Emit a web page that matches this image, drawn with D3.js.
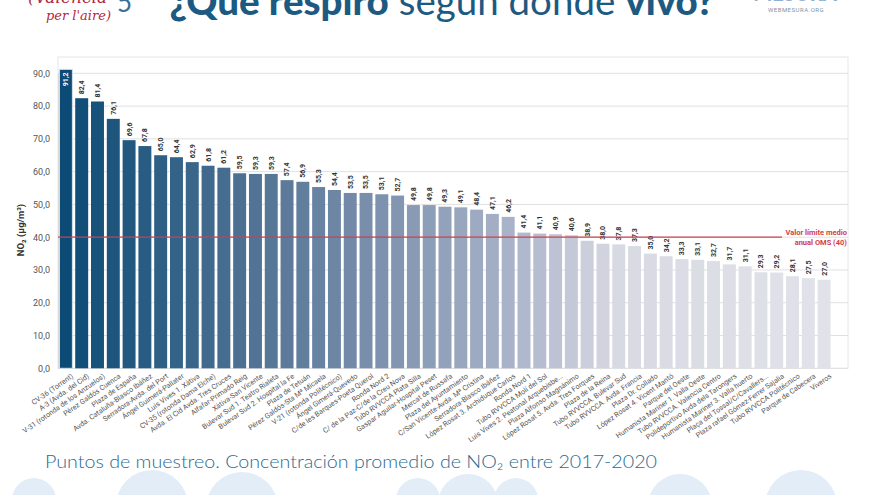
<!DOCTYPE html>
<html><head><meta charset="utf-8">
<script src="https://cdn.jsdelivr.net/npm/d3@7"></script>
<style>body{margin:0;background:#fff}svg{display:block}</style>
</head><body>
<svg id="c" width="880" height="495"></svg>
<script>
const categories = ["CV-36 (Torrent)","A-3 (Avda. del Cid)","V-31 (rotonda de los Anzuelos)","Pérez Galdós Cuenca","Plaza de España","Avda. Cataluña-Blasco Ibáñez","Serradora-Avda. del Port","Ángel Guimerá-Pallater","Luis Vives 1. Xàtiva","CV-35 (rotonda Dama Elche)","Avda. El Cid Avda. Tres Cruces","Alfafar-Primado Reig","Xàtiva-San Vicente","Bulevar Sud 1. Teatro Rialeta","Bulevar Sud 2. Hospital la Fe","Plaza de Tetuán","Pérez Galdós-Sta Mª Micaela","V-21 (rotonda Politécnico)","Ángel Gimerá-Quevedo","C/de les Barques-Poeta Querol","Ronda Nord 2","C/ de la Paz-C/de la Creu Nova","Tubo RVVCCA Plata Silla","Gaspar Aguilar-Hospital Peset","Mercat de Russafa","Plaza del Ayuntamiento","C/San Vicente-Avda. Mª Cristina","Serradora-Blasco Ibáñez","López Rosat 3. Archiduque Carlos","Ronda Nord 1","Tubo RVVCCA Molí del Sol","Luis Vives 2. Peatonal Arquebisbe...","Plaza Alfonso Magnánimo","López Rosat 5. Avda. Tres Forques","Plaza de la Reina","Tubo RVVCCA. Bulevar Sud","Tubo RVVCCA. Avda. Francia","Plaza Dr. Collado","López Rosat 4. Vicent Mantó","Parque del Oeste","Humanista Mariner 1. Valla Oeste","Tubo RVVCCA. Valencia Centro","Polideportivo Avda dels Tarongers","Humanista Mariner 3. Valla huerto","Plaça del Tossal/C/Cavallers...","Plaza rafael Gómez-Ferrer Sajalia","Tubo RVVCCA Politécnico","Parque de Cabecera","Viveros"];
const values = [91.2,82.4,81.4,76.1,69.6,67.8,65.0,64.4,62.9,61.8,61.2,59.5,59.3,59.3,57.4,56.9,55.3,54.4,53.5,53.5,53.1,52.7,49.8,49.8,49.3,49.1,48.4,47.1,46.2,41.4,41.1,40.9,40.6,38.9,38.0,37.8,37.3,35.0,34.2,33.3,33.1,32.7,31.7,31.1,29.3,29.2,28.1,27.5,27.0];
const yTicks = [0,10,20,30,40,50,60,70,80,90];
const limitValue = 40;
const limitLabel = ["Valor límite medio","anual OMS (40)"];
const yTitle = "NO₂ (µg/m³)";
const caption = "Puntos de muestreo. Concentración promedio de NO₂ entre 2017-2020";

const svg = d3.select("#c");
const fmt = v => d3.format(".1f")(v).replace(".", ",");

const x = d3.scaleBand().domain(categories).range([58, 832]).paddingInner(0.18).paddingOuter(0.09);
const y = d3.scaleLinear().domain([0, 90]).range([368.3, 73.3]);
const color = d3.scaleLinear().domain([0,14,28,35,48])
  .range(["#0b4b75","#5d7a9a","#a8b2c8","#d8dae3","#e1e2e9"]);

// decorative bottom circles
const deco = [[34,500,22],[152,506,36],[242,508,36],[418,500,22],[468,504,30],[516,500,22],[680,506,32],[801,506,36]];
svg.append("g").selectAll("circle").data(deco).join("circle")
  .attr("cx", d=>d[0]).attr("cy", d=>d[1]).attr("r", d=>d[2]).attr("fill","#e3edf7");

// frame
svg.append("rect").attr("x",58).attr("y",57).attr("width",790).attr("height",368.3-57)
  .attr("fill","none").attr("stroke","#e6e6e6");

// grid
svg.append("g").selectAll("line").data(yTicks).join("line")
  .attr("x1",58).attr("x2",848).attr("y1",d=>y(d)).attr("y2",d=>y(d))
  .attr("stroke","#e0e0e0").attr("stroke-width",1);

// y axis
const yAxis = svg.append("g").attr("transform","translate(58,0)")
  .call(d3.axisLeft(y).tickValues(yTicks).tickFormat(fmt).tickSize(0).tickPadding(8));
yAxis.select(".domain").attr("stroke","#d8d8d8");
yAxis.selectAll("text").attr("font-family","Roboto").attr("font-size",9).attr("fill","#555");

svg.append("text").attr("transform","translate(24,230) rotate(-90)")
  .attr("text-anchor","middle").attr("font-family","Roboto").attr("font-weight","bold")
  .attr("font-size",9.5).attr("fill","#333").text(yTitle);

// bars
svg.append("g").selectAll("rect").data(values).join("rect")
  .attr("x",(d,i)=>x(categories[i])).attr("width",x.bandwidth())
  .attr("y",d=>y(d)).attr("height",d=>y(0)-y(d))
  .attr("fill",(d,i)=>color(i))
  .attr("stroke",(d,i)=>i===0?"#cfe2ef":"none").attr("stroke-width",1);

// value labels
svg.append("g").selectAll("text").data(values).join("text")
  .attr("transform",(d,i)=>{
    const cx = x(categories[i]) + x.bandwidth()/2;
    return i===0 ? `translate(${cx},${y(d)+3}) rotate(-90)` : `translate(${cx},${y(d)-4}) rotate(-90)`;
  })
  .attr("text-anchor",(d,i)=>i===0?"end":"start")
  .attr("dy","0.35em")
  .attr("font-family","Roboto").attr("font-weight","bold").attr("font-size",7)
  .attr("fill",(d,i)=>i===0?"#fff":"#333")
  .text(d=>fmt(d));

// x labels
svg.append("g").selectAll("text").data(categories).join("text")
  .attr("transform",d=>`translate(${x(d)+x.bandwidth()/2+5},${373}) rotate(-35)`)
  .attr("text-anchor","end").attr("dy","0.71em")
  .attr("font-family","Roboto").attr("font-size",7.2).attr("fill","#555")
  .text(d=>d);

// limit line
svg.append("line").attr("x1",58).attr("x2",782).attr("y1",y(limitValue)).attr("y2",y(limitValue))
  .attr("stroke","#d0404a").attr("stroke-width",1.2);
svg.append("g").selectAll("text").data(limitLabel).join("text")
  .attr("x",847).attr("y",(d,i)=>y(limitValue)-2+i*10)
  .attr("text-anchor","end").attr("font-family","Roboto").attr("font-weight","bold")
  .attr("font-size",7.5).attr("fill","#d0404a").text(d=>d);

// header
const t = svg.append("text").attr("x",442).attr("y",15).attr("text-anchor","middle")
  .attr("font-family","Lato").attr("font-size",38.5).attr("fill","#1d5a82");
t.append("tspan").attr("font-weight","900").text("¿Qué respiro");
t.append("tspan").attr("font-weight","400").text(" según donde ");
t.append("tspan").attr("font-weight","900").text("vivo?");

svg.append("text").attr("x",28).attr("y",3).attr("font-family","DejaVu Serif").attr("font-style","italic")
  .attr("font-size",17).attr("fill","#b22a3a").text("(València");
svg.append("text").attr("x",46).attr("y",20).attr("font-family","DejaVu Serif").attr("font-style","italic")
  .attr("font-size",13).attr("fill","#b22a3a").text("per l'aire)");
svg.append("text").attr("x",117).attr("y",12).attr("font-family","Lato").attr("font-size",26)
  .attr("fill","#3b6d99").text("5");

svg.append("text").attr("x",795).attr("y",1).attr("text-anchor","middle").attr("font-family","Lato")
  .attr("font-weight","900").attr("font-size",20).attr("fill","#8fb0d0").text("MESURA");
svg.append("text").attr("x",796).attr("y",12).attr("text-anchor","middle").attr("font-family","Roboto")
  .attr("font-size",6).attr("letter-spacing",0.5).attr("fill","#7f93a8").text("WEBMESURA.ORG");

// caption
svg.append("text").attr("x",45).attr("y",468).attr("font-family","Lato").attr("font-weight","300")
  .attr("font-size",18).attr("textLength",612).attr("lengthAdjust","spacingAndGlyphs")
  .attr("fill","#2a6b8f").text(caption);
</script>
</body></html>
